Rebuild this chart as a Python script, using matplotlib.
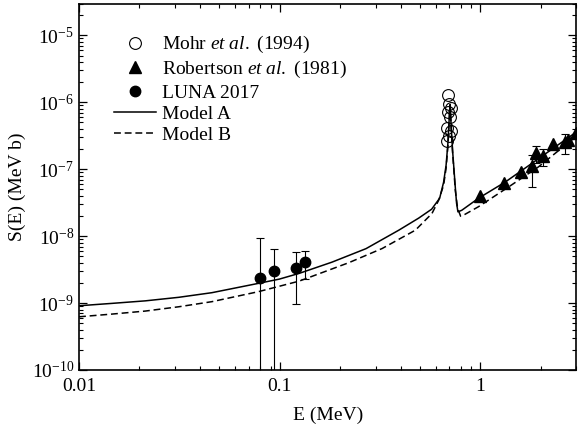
#!/usr/bin/env python3

import numpy as np
import matplotlib
matplotlib.use('Agg')
import matplotlib.pyplot as plt
from matplotlib.lines import Line2D
from matplotlib.ticker import FixedLocator, FixedFormatter, LogLocator, NullFormatter

plt.rcParams['font.family'] = 'Liberation Serif'
plt.rcParams['mathtext.fontset'] = 'custom'
plt.rcParams['mathtext.rm'] = 'Liberation Serif'
plt.rcParams['mathtext.it'] = 'Liberation Serif:italic'

# Model curves, E in MeV and S(E) in MeV b
model_a_e = [0.010, 0.0146, 0.0214, 0.0314, 0.0459, 0.0782, 0.0994, 0.125,
             0.182, 0.269, 0.392, 0.492, 0.571, 0.626, 0.655, 0.674, 0.688,
             0.702, 0.7065, 0.714, 0.726, 0.749, 0.760, 0.772, 0.807, 0.978,
             1.33, 1.80, 3.0]
model_a_s = [9.12e-10, 9.90e-10, 1.08e-9, 1.22e-9, 1.43e-9, 1.97e-9, 2.28e-9,
             2.78e-9, 4.09e-9, 6.51e-9, 1.23e-8, 1.86e-8, 2.53e-8, 3.69e-8,
             6.40e-8, 1.15e-7, 2.44e-7, 7.60e-7, 9.33e-7, 4.54e-7, 1.92e-7,
             5.38e-8, 3.11e-8, 2.31e-8, 2.44e-8, 3.69e-8, 6.46e-8, 1.22e-7,
             3.60e-7]

model_b_e = [0.010, 0.0146, 0.0214, 0.0314, 0.0459, 0.0782, 0.125, 0.221,
             0.324, 0.474, 0.573, 0.619, 0.655, 0.674, 0.688, 0.702, 0.7065,
             0.714, 0.726, 0.749, 0.769, 0.796, 0.823, 0.978, 1.38, 1.94, 3.0]
model_b_s = [6.24e-10, 6.85e-10, 7.60e-10, 8.81e-10, 1.05e-9, 1.48e-9, 2.13e-9,
             4.02e-9, 6.55e-9, 1.23e-8, 2.18e-8, 3.45e-8, 5.77e-8, 1.04e-7,
             2.20e-7, 7.09e-7, 8.71e-7, 4.24e-7, 1.79e-7, 4.86e-8, 2.62e-8,
             1.99e-8, 2.06e-8, 2.76e-8, 5.44e-8, 1.08e-7, 3.11e-7]

# Mohr et al. (1994), resonance region
mohr_e = [0.690, 0.6935, 0.710, 0.686, 0.702, 0.678, 0.710, 0.698, 0.682]
mohr_s = [1.27e-6, 9.33e-7, 8.14e-7, 7.09e-7, 5.97e-7, 4.09e-7, 3.69e-7,
          3.11e-7, 2.62e-7]

# Robertson et al. (1981)
rob_e = [1.00, 1.315, 1.60, 1.81, 1.90, 2.055, 2.30, 2.63, 2.72, 3.0]
rob_s = [4.02e-8, 6.24e-8, 9.24e-8, 1.10e-7, 1.72e-7, 1.56e-7, 2.42e-7,
         2.53e-7, 2.71e-7, 3.44e-7]
rob_err = [0, 0, 0, 5.6e-8, 5.0e-8, 4.6e-8, 0, 8.3e-8, 0, 0]

# LUNA 2017
luna_e = [0.080, 0.0935, 0.120, 0.133]
luna_s = [2.39e-9, 3.03e-9, 3.37e-9, 4.13e-9]
luna_err = [7.0e-9, 3.4e-9, 2.4e-9, 1.8e-9]

FS = 14
DASHES = (0, (4.5, 2.5))

fig = plt.figure(figsize=(5.78, 4.33), dpi=100)
ax = fig.add_axes([0.1367, 0.1455, 0.8603, 0.8464])
ax.set_xscale('log')
ax.set_yscale('log')

ax.plot(model_a_e, model_a_s, color='k', lw=1.1)
ax.plot(model_b_e, model_b_s, color='k', lw=1.1, ls=DASHES)

ax.plot(mohr_e, mohr_s, 'o', mfc='none', mec='k', ms=8.5, mew=0.8)

rob_e_arr = np.array(rob_e)
rob_s_arr = np.array(rob_s)
rob_err_arr = np.array(rob_err)
has_err = rob_err_arr > 0
ax.errorbar(rob_e_arr[has_err], rob_s_arr[has_err], yerr=rob_err_arr[has_err],
            fmt='none', ecolor='k', elinewidth=0.8, capsize=3, capthick=0.8)
ax.plot(rob_e, rob_s, '^', color='k', ms=8)

ax.errorbar(luna_e, luna_s, yerr=luna_err, fmt='o', color='k', ms=7.5,
            elinewidth=0.8, capsize=3, capthick=0.8)

ax.set_xlim(0.01, 3)
ax.set_ylim(1e-10, 3e-5)

ax.xaxis.set_major_locator(FixedLocator([0.01, 0.1, 1]))
ax.xaxis.set_major_formatter(FixedFormatter(['0.01', '0.1', '1']))
ax.xaxis.set_minor_locator(LogLocator(base=10, subs=np.arange(2, 10), numticks=20))
ax.xaxis.set_minor_formatter(NullFormatter())
ax.yaxis.set_major_locator(LogLocator(base=10, numticks=20))
ax.yaxis.set_minor_locator(LogLocator(base=10, subs=np.arange(2, 10), numticks=20))
ax.yaxis.set_minor_formatter(NullFormatter())

ax.tick_params(which='both', direction='in', top=True, right=True, labelsize=FS)
ax.tick_params(which='major', length=6, width=0.9)
ax.tick_params(which='minor', length=3, width=0.8)
ax.tick_params(axis='x', which='major', pad=5.5)
for spine in ax.spines.values():
    spine.set_linewidth(1.2)

ax.set_xlabel('E (MeV)', fontsize=FS, labelpad=9)
ax.set_ylabel('S(E) (MeV b)', fontsize=FS, labelpad=4)

handles = [
    Line2D([], [], marker='o', ls='none', mfc='none', mec='k', ms=8.5, mew=0.8),
    Line2D([], [], marker='^', ls='none', color='k', ms=8),
    Line2D([], [], marker='o', ls='none', color='k', ms=7.5),
    Line2D([], [], color='k', lw=1.1),
    Line2D([], [], color='k', lw=1.1, ls=DASHES),
]
labels = [
    r'Mohr $\mathit{et\ al.}$ (1994)',
    r'Robertson $\mathit{et\ al.}$ (1981)',
    'LUNA 2017',
    'Model A',
    'Model B',
]
ax.legend(handles, labels, loc='upper left', bbox_to_anchor=(0.054, 0.937),
          frameon=False, fontsize=FS, handlelength=2.2, handletextpad=0.3,
          labelspacing=0.19, borderaxespad=0)

fig.savefig('out.png', dpi=100)
